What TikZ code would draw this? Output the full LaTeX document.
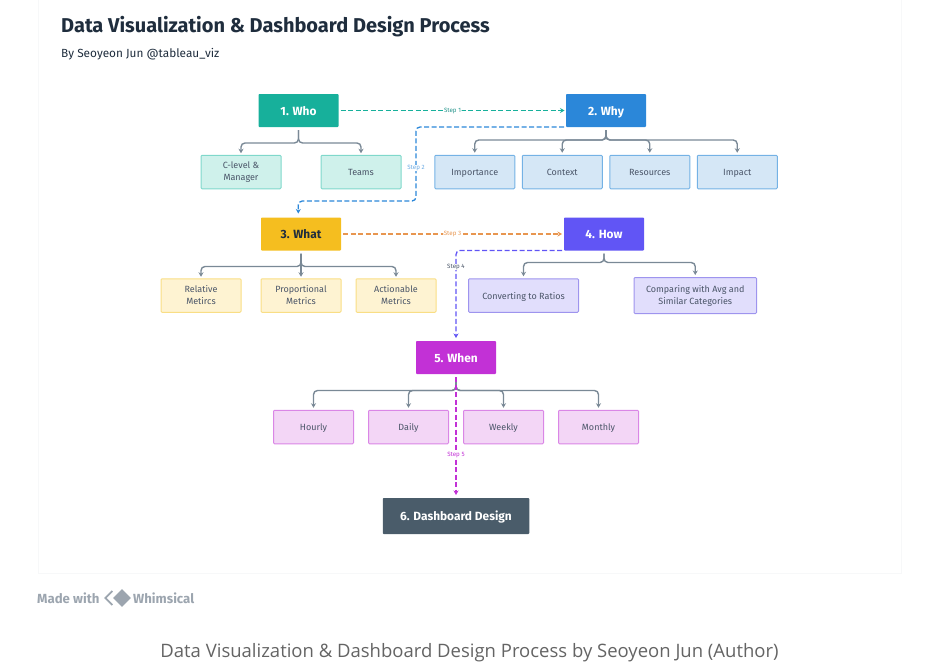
\documentclass[tikz,border=0pt]{standalone}
\usepackage{fontspec}
\setmainfont{Fira Sans}
\newfontfamily\capfont{Open Sans}
\usepackage{tikz}
\usetikzlibrary{positioning,arrows.meta,shapes.geometric}
\definecolor{inkdark}{RGB}{31,45,61}
\definecolor{inkgrey}{RGB}{74,85,104}
\definecolor{branchgrey}{RGB}{122,137,150}
\definecolor{whocol}{RGB}{23,176,155}
\definecolor{whosoft}{RGB}{207,241,235}
\definecolor{whorule}{RGB}{127,216,203}
\definecolor{whycol}{RGB}{43,135,217}
\definecolor{whysoft}{RGB}{213,231,246}
\definecolor{whyrule}{RGB}{116,178,229}
\definecolor{whatcol}{RGB}{245,190,31}
\definecolor{whatsoft}{RGB}{254,243,210}
\definecolor{whatrule}{RGB}{249,222,133}
\definecolor{stepthree}{RGB}{232,150,80}
\definecolor{howcol}{RGB}{97,85,245}
\definecolor{howsoft}{RGB}{225,222,252}
\definecolor{howrule}{RGB}{158,148,238}
\definecolor{whencol}{RGB}{194,49,214}
\definecolor{whensoft}{RGB}{243,214,246}
\definecolor{whenrule}{RGB}{218,134,230}
\definecolor{dashcol}{RGB}{74,92,106}
\definecolor{panelrule}{RGB}{247,248,249}
\definecolor{madegrey}{RGB}{156,165,175}
\definecolor{capgrey}{RGB}{100,100,100}
\tikzset{
  headbox/.style={rectangle,rounded corners=0.8pt,align=center,minimum width=80pt,minimum height=33pt,inner sep=0pt,outer sep=0pt,text=white,text height=9.4pt,text depth=0pt,font=\fontsize{11.9}{13}\selectfont\bfseries},
  childbox/.style={rectangle,rounded corners=1pt,line width=1pt,align=center,minimum width=80pt,minimum height=33.5pt,inner sep=0pt,outer sep=0pt,text=inkgrey,text height=7.2pt,text depth=0pt,font=\fontsize{9}{12}\selectfont},
  twoline/.style={text height=,text depth=,execute at begin node={\rule{0pt}{10.5pt}}},
  whobox/.style={childbox,draw=whorule,fill=whosoft},
  whybox/.style={childbox,draw=whyrule,fill=whysoft},
  whatbox/.style={childbox,draw=whatrule,fill=whatsoft},
  howbox/.style={childbox,draw=howrule,fill=howsoft},
  whenbox/.style={childbox,draw=whenrule,fill=whensoft},
  branch/.style={-{Stealth[length=4.5pt,width=5pt]},draw=branchgrey,line width=1.4pt,rounded corners=4pt},
  stepline/.style={-{Stealth[length=4.5pt,width=5pt]},line width=1.3pt,dash pattern=on 5pt off 2.5pt,rounded corners=4pt},
  steplabel/.style={fill=white,inner sep=0.6pt,font=\fontsize{6.2}{7}\selectfont}
}
\begin{document}
\begin{tikzpicture}[x=1pt,y=-1pt,node distance=7.5pt]
  \useasboundingbox (0,0) rectangle (936,670);
  \draw[panelrule] (38,-4) rectangle (901,573);
  \node[anchor=west,inner sep=0pt,text=inkdark,font=\fontsize{20}{22}\selectfont\bfseries] (title) at (61,27) {Data Visualization \& Dashboard Design Process};
  \node[anchor=west,inner sep=0pt,text=inkdark,font=\fontsize{11.8}{13}\selectfont] (byline) at (61,54) {By Seoyeon Jun @tableau\_viz};
  % main steps
  \node[headbox,fill=whocol] (who) at (298.5,110.5) {1. Who};
  \node[headbox,fill=whycol] (why) at (606,110.5) {2. Why};
  \node[headbox,fill=whatcol,text=inkdark] (what) at (301,234) {3. What};
  \node[headbox,fill=howcol] (how) at (604,234) {4. How};
  \node[headbox,fill=whencol] (when) at (456,357.5) {5. When};
  \node[headbox,fill=dashcol,minimum width=146.5pt,minimum height=36pt] (design) at (456,516) {6. Dashboard Design};
  % detail boxes
  \node[whobox,twoline] (clevel) at (241,172) {C-level \&\\Manager};
  \node[whobox,right=40pt of clevel] (teams) {Teams};
  \node[whybox] (importance) at (474.75,172) {Importance};
  \node[whybox,right=of importance] (context) {Context};
  \node[whybox,right=of context] (resources) {Resources};
  \node[whybox,right=of resources] (impact) {Impact};
  \node[whatbox,twoline] (relative) at (201,295.5) {Relative\\Metircs};
  \node[whatbox,twoline,right=20pt of relative] (proportional) {Proportional\\Metrics};
  \node[whatbox,twoline,right=15pt of proportional] (actionable) {Actionable\\Metrics};
  \node[howbox,minimum width=110pt] (ratios) at (523.5,295.5) {Converting to Ratios};
  \node[howbox,twoline,minimum width=122.5pt,minimum height=36pt] (avg) at (695.25,295.5) {Comparing with Avg and\\Similar Categories};
  \node[whenbox] (hourly) at (313.5,427) {Hourly};
  \node[whenbox,right=15pt of hourly] (daily) {Daily};
  \node[whenbox,right=15pt of daily] (weekly) {Weekly};
  \node[whenbox,right=15pt of weekly] (monthly) {Monthly};
  % branches
  \draw[branch] ([yshift=-3pt]who.south) -- ++(0,13) -| ([yshift=2pt]clevel.north);
  \draw[branch] ([yshift=-3pt]who.south) -- ++(0,13) -| ([yshift=2pt]teams.north);
  \draw[branch] ([yshift=-3pt]why.south) -- ++(0,10) -| ([yshift=2.5pt]importance.north);
  \draw[branch] ([yshift=-3pt]why.south) -- ++(0,10) -| ([yshift=2.5pt]context.north);
  \draw[branch] ([yshift=-3pt]why.south) -- ++(0,10) -| ([yshift=2.5pt]resources.north);
  \draw[branch] ([yshift=-3pt]why.south) -- ++(0,10) -| ([yshift=2.5pt]impact.north);
  \draw[branch] ([yshift=-3pt]what.south) -- ++(0,13) -| ([yshift=2pt]relative.north);
  \draw[branch] ([yshift=-3pt]what.south) -- ++(0,13) -| ([yshift=2pt]proportional.north);
  \draw[branch] ([yshift=-3pt]what.south) -- ++(0,13) -| ([yshift=2pt]actionable.north);
  \draw[branch] ([yshift=-3pt]how.south) -- ++(0,9) -| ([yshift=2.5pt]ratios.north);
  \draw[branch] ([yshift=-3pt]how.south) -- ++(0,9) -| ([yshift=2.5pt]avg.north);
  \draw[branch] ([yshift=-3pt]when.south) -- ++(0,13.5) -| ([yshift=2.5pt]hourly.north);
  \draw[branch] ([yshift=-3pt]when.south) -- ++(0,13.5) -| ([yshift=2.5pt]daily.north);
  \draw[branch] ([yshift=-3pt]when.south) -- ++(0,13.5) -| ([yshift=2.5pt]weekly.north);
  \draw[branch] ([yshift=-3pt]when.south) -- ++(0,13.5) -| ([yshift=2.5pt]monthly.north);
  % steps
  \coordinate (bendtwo) at (416,201);
  \coordinate (bendfour) at (456,250.5);
  \draw[stepline,whocol] ([xshift=2pt]who.east) -- node[steplabel,text=whocol!70!inkgrey]{Step 1} ([xshift=-1.5pt]why.west);
  \draw[stepline,whycol] ([xshift=-2pt]why.south west) -| (bendtwo) -| ([xshift=-2.7pt,yshift=4pt]what.north);
  \node[steplabel,text=whycol!70!white] (steptwo) at (416,168) {Step 2};
  \draw[stepline,stepthree] ([xshift=2pt]what.east) -- node[steplabel]{Step 3} ([xshift=-2pt]how.west);
  \draw[stepline,howcol] ([xshift=-2pt]how.south west) -- (bendfour) -- ([yshift=3pt]when.north);
  \node[steplabel,text=inkgrey] (stepfour) at (456,267) {Step 4};
  \draw[stepline,whencol] ([yshift=-3pt]when.south) -- node[steplabel,pos=0.66]{Step 5} ([yshift=3pt]design.north);
  % footer
  \node[anchor=west,inner sep=0pt,text=madegrey,font=\fontsize{13.2}{15}\selectfont\bfseries] (made) at (37,598) {Made with};
  \node[diamond,fill=madegrey,minimum size=18pt,inner sep=0pt] (logo) at (122,598) {};
  \draw[madegrey,line width=1.8pt] ([xshift=-0.5pt,yshift=7pt]logo.west) -- ++(-7,7) -- ++(7,7);
  \node[anchor=west,inner sep=0pt,text=madegrey,font=\fontsize{13.2}{15}\selectfont\bfseries] (whimsical) at (133,598) {Whimsical};
  \node[inner sep=0pt,text=capgrey,font=\capfont\fontsize{18.5}{20}\selectfont] (caption) at (469.5,652.5) {Data Visualization \& Dashboard Design Process by Seoyeon Jun (Author)};
\end{tikzpicture}
\end{document}
